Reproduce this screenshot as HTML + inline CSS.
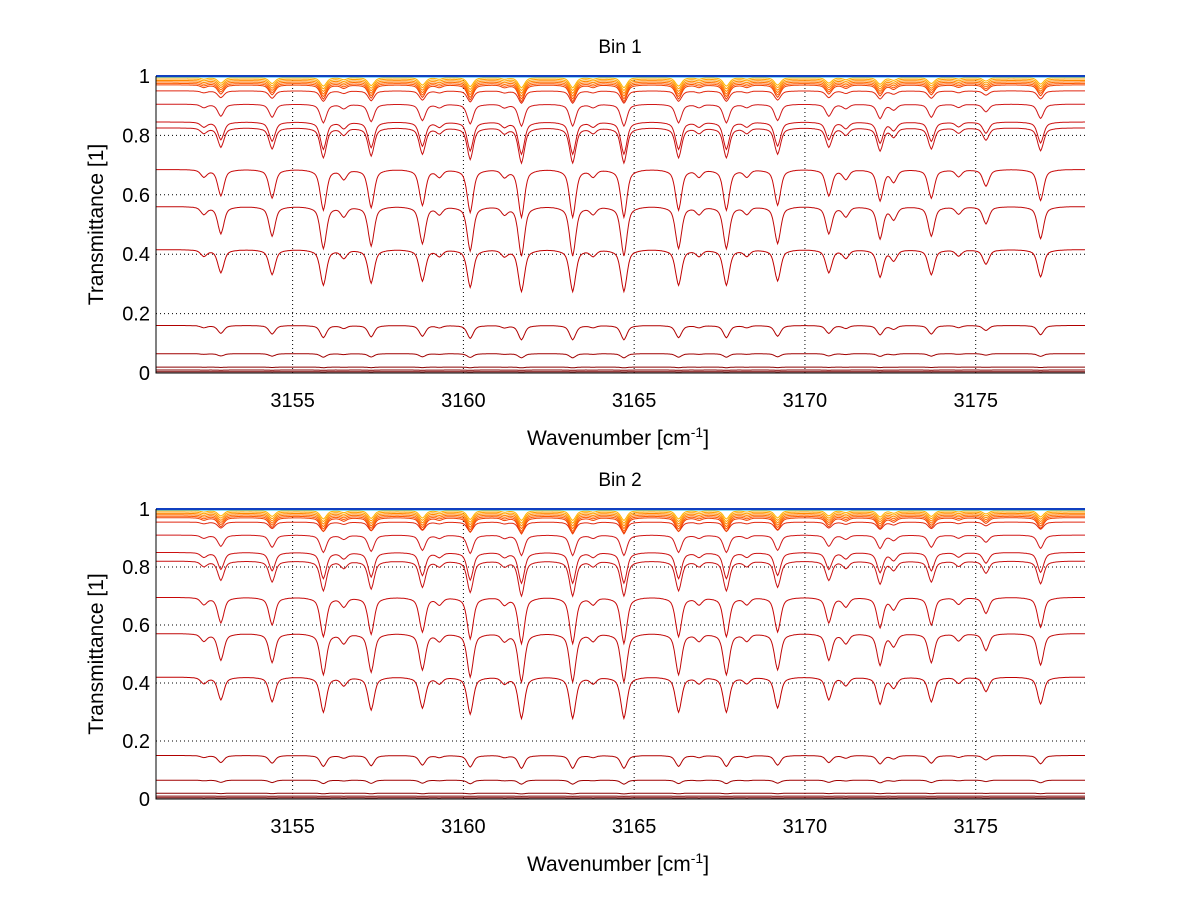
<!DOCTYPE html>
<html><head><meta charset="utf-8"><style>
html,body{margin:0;padding:0;background:#fff;}
svg{display:block;font-family:"Liberation Sans",sans-serif;}
</style></head><body>
<svg id="fig" width="1200" height="901" viewBox="0 0 1200 901"></svg>
<script>
// shared data
const xTicks = [3155, 3160, 3165, 3170, 3175];
const yTicks = [0, 0.2, 0.4, 0.6, 0.8, 1];
const yTickLabels = ["0", "0.2", "0.4", "0.6", "0.8", "1"];
const lineCenters = [3152.9, 3154.4, 3155.9, 3157.3, 3158.8, 3160.2, 3161.7, 3163.2, 3164.7, 3166.3, 3167.7, 3169.2, 3170.7, 3172.2, 3173.7, 3175.3, 3176.9, 3152.4, 3156.5, 3159.3, 3161.2, 3163.8, 3166.9, 3168.3, 3171.2, 3172.6, 3174.5];
const lineStrengths = [0.55, 0.6, 0.85, 0.8, 0.75, 0.9, 1.0, 1.0, 1.0, 0.85, 0.85, 0.75, 0.55, 0.65, 0.6, 0.35, 0.65, 0.15, 0.2, 0.15, 0.15, 0.15, 0.15, 0.15, 0.2, 0.25, 0.15];
const bin1Levels = [0.004, 0.01, 0.02, 0.065, 0.16, 0.415, 0.56, 0.685, 0.825, 0.845, 0.905, 0.95, 0.97, 0.975, 0.98, 0.985, 0.99, 0.995, 0.998, 1.0];
const bin2Levels = [0.004, 0.01, 0.02, 0.065, 0.15, 0.42, 0.57, 0.695, 0.82, 0.85, 0.91, 0.955, 0.97, 0.975, 0.98, 0.985, 0.99, 0.995, 0.998, 1.0];
const curveColors = ["#7a0000", "#800000", "#8a0000", "#a00000", "#b00000", "#c00000", "#c00808", "#c80808", "#c81010", "#cc1010", "#d01818", "#e02810", "#f04000", "#ff5a00", "#ff7000", "#ff8800", "#ffa000", "#ffb400", "#40c0f0", "#1040c0"];

const NS = "http://www.w3.org/2000/svg";
const svg = document.getElementById("fig");
function mk(tag, attrs, parent) {
  const e = document.createElementNS(NS, tag);
  for (const k in attrs) e.setAttribute(k, attrs[k]);
  (parent || svg).appendChild(e);
  return e;
}
const X0 = 3151, X1 = 3178.2, PL = 156, PR = 1085;
function xs(v) { return PL + (v - X0) / (X1 - X0) * (PR - PL); }

function profile(w) {
  let s = 0;
  for (let i = 0; i < lineCenters.length; i++) {
    const d = w - lineCenters[i];
    s += lineStrengths[i] * (0.65 * Math.exp(-d * d / 0.015) + 0.35 * Math.exp(-Math.abs(d) / 0.2));
  }
  return Math.min(s, 1.3);
}

function drawPanel(title, levels, yTop, yBot, name) {
  const g = mk("g", {}, svg);
  
  
  const ys = v => yBot - v * (yBot - yTop);
  xTicks.forEach(t => {
    const l = mk("line", {x1: xs(t), x2: xs(t), y1: yTop, y2: yBot, stroke: "#000", "stroke-width": 1, "stroke-dasharray": "1,3"}, g);
    
    
  });
  yTicks.forEach(t => {
    const l = mk("line", {x1: PL, x2: PR, y1: ys(t), y2: ys(t), stroke: "#000", "stroke-width": 1, "stroke-dasharray": "1,3"}, g);
    
    
  });
  levels.forEach((lv, i) => {
    let d = "";
    const amp = lv >= 0.997 ? 0 : 0.9 * Math.pow(lv, 1.5) * (1 - lv) + (lv > 0.96 ? 0.03 : 0);
    for (let w = X0; w <= X1 + 1e-9; w += 0.025) {
      const T = lv - amp * profile(w);
      d += (d ? "L" : "M") + xs(w).toFixed(1) + "," + ys(T).toFixed(1);
    }
    const p = mk("path", {d: d, fill: "none", stroke: curveColors[i], "stroke-width": i >= 18 ? 2 : 1}, g);
    
    
  });
  const ax = mk("path", {d: `M${PL},${yTop}V${yBot}H${PR}`, fill: "none", stroke: "#000", "stroke-width": 1}, g);
  
  
  xTicks.forEach(t => {
    const tx = mk("text", {x: xs(t), y: yBot + 34, "text-anchor": "middle", "font-size": 20}, g);
    tx.textContent = t;
    
    
  });
  yTicks.forEach((t, i) => {
    const tx = mk("text", {x: PL - 6, y: ys(t) + 7, "text-anchor": "end", "font-size": 20}, g);
    tx.textContent = yTickLabels[i];
    
    
  });
  const tt = mk("text", {x: 620, y: yTop - 23, "text-anchor": "middle", "font-size": 19}, g);
  tt.textContent = title;
  
  
  const xl = mk("text", {x: 618, y: yBot + 72, "text-anchor": "middle", "font-size": 21}, g);
  xl.innerHTML = 'Wavenumber [cm<tspan dy="-8" font-size="14">-1</tspan><tspan dy="8">]</tspan>';
  
  
  const yc = (yTop + yBot) / 2;
  const yl = mk("text", {x: 103, y: yc, "text-anchor": "middle", "font-size": 21, transform: `rotate(-90 103 ${yc})`}, g);
  yl.textContent = "Transmittance [1]";
  
  
}
drawPanel("Bin 1", bin1Levels, 76, 373, "bin1-panel");
drawPanel("Bin 2", bin2Levels, 509, 799, "bin2-panel");
</script>
</body></html>
